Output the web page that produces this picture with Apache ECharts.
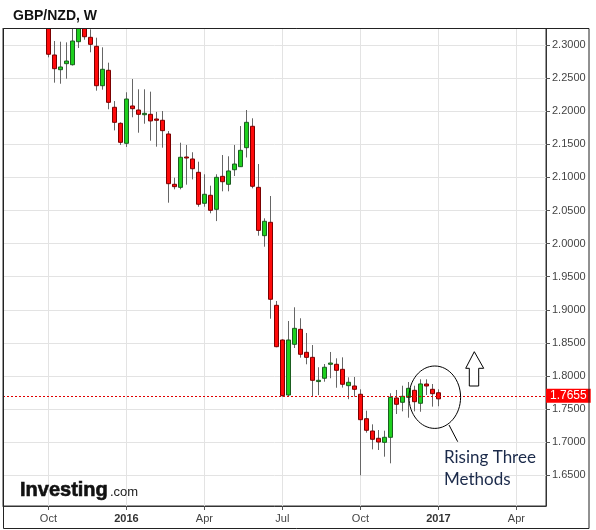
<!DOCTYPE html>
<html><head><meta charset="utf-8">
<script src="https://cdn.jsdelivr.net/npm/echarts@6/dist/echarts.min.js"></script>
<style>html,body{margin:0;padding:0;background:#fff}#c{width:596px;height:530px}</style>
</head><body><div id="c"></div>
<script>
// weekly candles, index 0 = week at the "Oct" 2015 tick
const openVals = [2.345, 2.2849, 2.2627, 2.2718, 2.2702, 2.305, 2.333, 2.3116, 2.298, 2.2385, 2.2618, 2.2059, 2.1817, 2.1515, 2.2079, 2.2018, 2.1947, 2.1953, 2.1882, 2.1863, 2.1656, 2.0896, 2.085, 2.1308, 2.1278, 2.1077, 2.0609, 2.073, 2.0518, 2.1016, 2.0896, 2.1116, 2.1162, 2.1449, 2.1772, 2.085, 2.012, 2.0322, 1.9068, 1.8544, 1.7713, 1.8479, 1.8705, 1.8358, 1.8282, 1.7916, 1.7966, 1.8177, 1.8177, 1.8101, 1.7854, 1.7849, 1.7724, 1.7355, 1.7169, 1.7059, 1.6998, 1.7074, 1.7668, 1.7603, 1.7678, 1.7784, 1.7588, 1.7879, 1.7799, 1.7747];
const closeVals = [2.2860, 2.2642, 2.2668, 2.2758, 2.306, 2.335, 2.3125, 2.301, 2.2385, 2.2633, 2.2134, 2.1832, 2.153, 2.2184, 2.2038, 2.1953, 2.1968, 2.1853, 2.1863, 2.1706, 2.0905, 2.086, 2.1304, 2.1293, 2.1131, 2.0594, 2.0745, 2.0503, 2.1001, 2.0935, 2.1097, 2.1202, 2.1409, 2.1832, 2.0866, 2.02, 2.0337, 1.9159, 1.8443, 1.7703, 1.8544, 1.872, 1.8328, 1.8282, 1.7935, 1.7935, 1.8132, 1.8196, 1.8086, 1.7875, 1.7905, 1.7799, 1.734, 1.718, 1.7044, 1.7003, 1.7074, 1.7678, 1.7573, 1.7693, 1.7814, 1.7612, 1.788, 1.7849, 1.7733, 1.7655];
const highVals = [2.36, 2.306, 2.305, 2.304, 2.33, 2.345, 2.34, 2.3237, 2.311, 2.2965, 2.2733, 2.2153, 2.1832, 2.2286, 2.2486, 2.2331, 2.2331, 2.2295, 2.199, 2.2003, 2.17, 2.0996, 2.1524, 2.149, 2.138, 2.1237, 2.1047, 2.0875, 2.1047, 2.1338, 2.1319, 2.149, 2.1776, 2.2018, 2.1893, 2.1202, 2.0382, 2.0719, 1.9133, 1.8555, 1.8831, 1.9038, 1.8872, 1.865, 1.8468, 1.8132, 1.8181, 1.8363, 1.8267, 1.8282, 1.798, 1.7985, 1.7799, 1.7476, 1.727, 1.7184, 1.7174, 1.7739, 1.7789, 1.7853, 1.7909, 1.7853, 1.795, 1.795, 1.7879, 1.7799];
const lowVals = [2.2814, 2.2431, 2.2415, 2.2491, 2.269, 2.2955, 2.308, 2.289, 2.231, 2.2325, 2.2029, 2.171, 2.149, 2.146, 2.1908, 2.1675, 2.1811, 2.1554, 2.1464, 2.1449, 2.0618, 2.082, 2.082, 2.089, 2.097, 2.0557, 2.0557, 2.0458, 2.034, 2.079, 2.079, 2.1021, 2.1157, 2.1301, 2.0835, 2.0119, 1.9953, 1.8866, 1.8434, 1.7688, 1.7688, 1.8423, 1.8277, 1.8177, 1.7688, 1.7711, 1.7914, 1.7966, 1.7823, 1.7825, 1.765, 1.7688, 1.65, 1.7144, 1.6892, 1.6882, 1.6781, 1.6681, 1.7426, 1.7466, 1.737, 1.7466, 1.746, 1.7713, 1.7537, 1.7543];
const xTickWeeks = [0, 13, 26, 39, 52, 65, 78];
const xTickLabels = ['Oct', '2016', 'Apr', 'Jul', 'Oct', '2017', 'Apr'];
const yTicks = [1.65, 1.70, 1.75, 1.80, 1.85, 1.90, 1.95, 2.00, 2.05, 2.10, 2.15, 2.20, 2.25, 2.30];
const lastPrice = 1.7655;

const wickData = openVals.map((o, i) => [i, o, closeVals[i], lowVals[i], highVals[i]]);
const bodyData = openVals.map((o, i) => [i, o, closeVals[i], Math.min(o, closeVals[i]), Math.max(o, closeVals[i])]);

const chart = echarts.init(document.getElementById('c'), null, {renderer: 'canvas'});
const FONT = '"Liberation Sans", Arial, sans-serif';
chart.setOption({
  animation: false,
  backgroundColor: '#fff',
  title: {text: 'GBP/NZD, W', left: 8, top: 4, z: 120,
    textStyle: {fontSize: 14, fontWeight: 'bold', fontFamily: FONT, color: '#111'}},
  grid: {left: 3, top: 28, right: 50, bottom: 24, show: true, borderColor: '#333', borderWidth: 1, containLabel: false},
  xAxis: {
    type: 'value', min: -7.567, max: 82.933,
    axisLine: {show: true, onZero: false, lineStyle: {color: '#333'}},
    axisTick: {show: true, customValues: xTickWeeks, length: 4, lineStyle: {color: '#555'}},
    axisLabel: {customValues: xTickWeeks, margin: 7, fontSize: 11, fontFamily: FONT, color: '#444',
      formatter: v => { const i = xTickWeeks.indexOf(Math.round(v)); if (i < 0) return ''; const t = xTickLabels[i]; return /^\d+$/.test(t) ? '{b|' + t + '}' : t; },
      rich: {b: {fontWeight: 'bold', fontSize: 11, fontFamily: FONT, color: '#333'}}},
    splitLine: {show: true, lineStyle: {color: '#e3e3e3', width: 1}}
  },
  yAxis: {
    type: 'value', position: 'right', min: 1.60363, max: 2.32568, scale: true,
    axisLine: {show: true, onZero: false, lineStyle: {color: '#333'}},
    axisTick: {show: true, customValues: yTicks, length: 4, lineStyle: {color: '#555'}},
    axisLabel: {customValues: yTicks, margin: 6, fontSize: 11, fontFamily: FONT, color: '#444',
      formatter: v => v.toFixed(4)},
    splitLine: {show: true, lineStyle: {color: '#e3e3e3', width: 1}}
  },
  series: [
    {type: 'candlestick', data: wickData, barWidth: 1, clip: true, z: 2, silent: true,
      itemStyle: {color: '#666', color0: '#666', borderColor: '#666', borderColor0: '#666', borderWidth: 1}},
    {type: 'candlestick', data: bodyData, barWidth: 4, clip: true, z: 3, silent: true,
      itemStyle: {color: '#1ed01e', color0: '#ff0a0a', borderColor: '#1b5e20', borderColor0: '#7b0000', borderWidth: 1},
      markLine: {symbol: 'none', silent: true, animation: false,
        lineStyle: {color: '#e00000', type: [2, 2], width: 1},
        label: {show: true, position: 'end', distance: 0, formatter: lastPrice.toFixed(4),
          backgroundColor: '#ff0000', color: '#fff', fontSize: 12, fontFamily: FONT, padding: [1, 4, 0, 4], lineHeight: 13},
        data: [{yAxis: lastPrice}]}}
  ],
  graphic: [
    {type: 'rect', silent: true, z: 90, shape: {x: 0, y: 0, width: 596, height: 28}, style: {fill: '#fff'}},
    {type: 'rect', silent: true, z: 100, shape: {x: 3.5, y: 28.5, width: 585.5, height: 500}, style: {fill: 'none', stroke: '#222', lineWidth: 1}},
    {type: 'text', silent: true, z: 100, x: 20, y: 490, style: {text: 'Investing', font: 'bold 20px ' + FONT, fill: '#111', stroke: '#111', lineWidth: 0.6, verticalAlign: 'middle'}},
    {type: 'text', silent: true, z: 100, x: 110, y: 492, style: {text: '.com', font: '13px ' + FONT, fill: '#222', verticalAlign: 'middle'}},
    {type: 'ellipse', silent: true, z: 100, shape: {cx: 434.8, cy: 397.2, rx: 25.8, ry: 31.2}, style: {fill: 'none', stroke: '#000', lineWidth: 1}},
    {type: 'line', silent: true, z: 100, shape: {x1: 449, y1: 425, x2: 457.7, y2: 441.7}, style: {stroke: '#000', lineWidth: 1}},
    {type: 'polygon', silent: true, z: 100, shape: {points: [[474.3, 351.7], [483.7, 368.3], [478.7, 368.3], [478.7, 386], [469.3, 386], [469.3, 368.3], [465.7, 368.3]]}, style: {fill: '#fff', stroke: '#000', lineWidth: 1}},
    {type: 'text', silent: true, z: 100, x: 444, y: 447, style: {text: 'Rising Three\nMethods', font: '17px Lato, "Liberation Sans", sans-serif', fill: '#1b2a4a', lineHeight: 22, verticalAlign: 'top'}}
  ]
});
</script></body></html>
